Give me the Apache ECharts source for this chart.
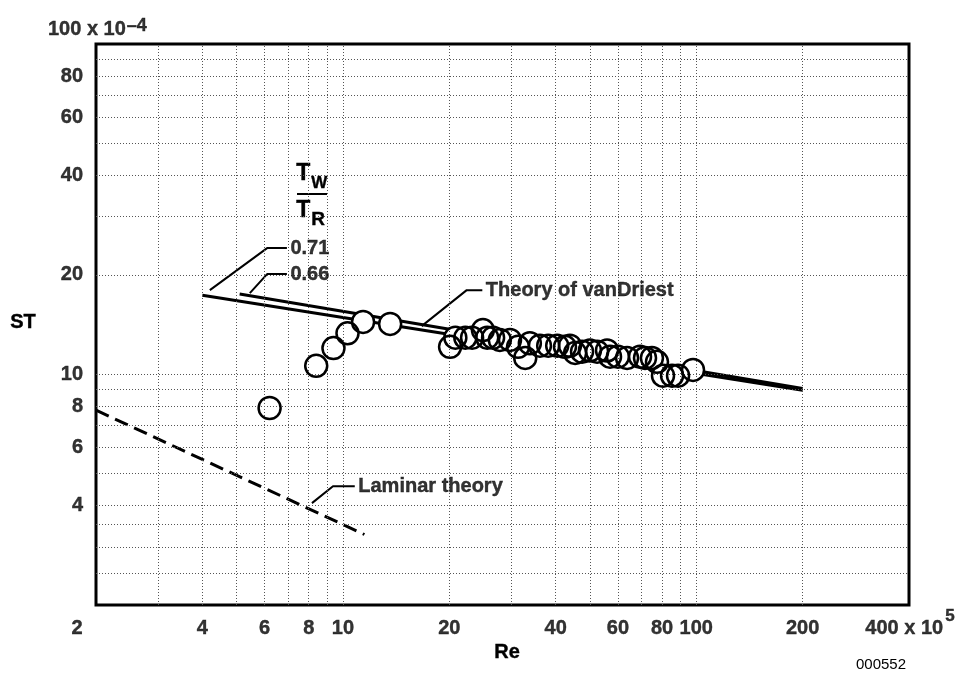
<!DOCTYPE html>
<html>
<head>
<meta charset="utf-8">
<script src="https://cdn.jsdelivr.net/npm/echarts@6/dist/echarts.min.js"></script>
<style>
html,body{margin:0;padding:0;background:#fff;}
#chart{width:963px;height:679px;}
</style>
</head>
<body>
<div id="chart"></div>
<script>
// ---- data ----
const stRe  = [6.2, 8.4, 9.4, 10.3, 11.4, 13.6, 20.1, 20.8, 22.2, 23.2, 24.9, 25.6, 26.6, 27.8, 29.7, 31.3, 32.8, 33.8, 36.1, 38.1, 40.4, 42.5, 43.9, 45.4, 47.5, 50.0, 52.4, 55.9, 57.0, 60.0, 63.7, 69.3, 71.6, 74.9, 77.4, 80.5, 85.4, 88.8, 97.9];
const stVal = [7.9, 10.6, 12.0, 13.3, 14.4, 14.2, 12.1, 12.9, 12.9, 12.9, 13.6, 12.9, 12.9, 12.7, 12.7, 12.1, 11.2, 12.4, 12.2, 12.2, 12.2, 12.1, 12.2, 11.6, 11.7, 11.8, 11.7, 11.8, 11.3, 11.3, 11.2, 11.3, 11.2, 11.2, 10.9, 9.9, 9.9, 9.9, 10.3];

const vd071Re = [4.0, 200];
const vd071St = [17.35, 8.94];
const vd066Re = [5.1, 200];
const vd066St = [17.5, 9.05];
const laminarRe = [2, 11.5];
const laminarSt = [7.78, 3.27];

// leaders (annotation connectors)
const lead071Re = [4.2, 6.1, 6.94];
const lead071St = [17.97, 24.09, 24.09];
const lead066Re = [5.45, 6.1, 6.94];
const lead066St = [17.6, 20.1, 20.1];
const leadVdRe = [16.7, 22.4, 24.8];
const leadVdSt = [13.98, 17.97, 17.97];
const leadLamRe = [8.17, 9.37, 10.8];
const leadLamSt = [4.07, 4.58, 4.58];
const annotationTexts = ['0.71', '0.66', 'Theory of vanDriest', 'Laminar theory'];

// axes
const xMin = 2, xMax = 400, yMin = 2, yMax = 100;
const xTickValues = [2, 4, 6, 8, 10, 20, 40, 60, 80, 100, 200, 400];
const xTickLabels = ['2', '4', '6', '8', '10', '20', '40', '60', '80', '100', '200', '400 x 10'];
const xUnitExp = '5';
const yTickValues = [4, 6, 8, 10, 20, 40, 60, 80, 100];
const yTickLabels = ['4', '6', '8', '10', '20', '40', '60', '80', '100 x 10'];
const yUnitExp = '\u20134';
const xGridValues = [3, 4, 5, 6, 7, 8, 9, 10, 20, 30, 40, 50, 60, 70, 80, 90, 100, 200];
const yGridValues = [2.5, 3, 3.5, 4, 5, 6, 7, 8, 9, 10, 20, 30, 40, 50, 60, 70, 80, 90];

// ---- chart ----
const FONT = '"Liberation Sans", Arial, Helvetica, sans-serif';
const chart = echarts.init(document.getElementById('chart'));
const zip = (a, b) => a.map((v, i) => [v, b[i]]);

const boldText = (size) => ({ fontFamily: FONT, fontWeight: 'bold', fontSize: size, color: '#000', textBorderColor: '#000', textBorderWidth: 0.4 });
const richSupX = {
  n: Object.assign(boldText(20), { lineHeight: 30, verticalAlign: 'bottom' }),
  sup: Object.assign(boldText(17), { verticalAlign: 'top', padding: [0, 0, 0, 2] })
};
const richSupY = {
  n: Object.assign(boldText(20), { lineHeight: 30, verticalAlign: 'bottom' }),
  sup: Object.assign(boldText(18), { verticalAlign: 'top', padding: [8, 0, 0, 1] })
};

const xTickData = xTickValues.map((v, i) => {
  const last = i === xTickValues.length - 1;
  const first = i === 0;
  return {
    value: [v, yMin],
    label: {
      show: true, position: 'inside', align: 'center', verticalAlign: 'middle', color: '#000',
      offset: last ? [1, 18] : (first ? [-19, 23] : [0, 23]),
      formatter: last ? '{n|' + xTickLabels[i] + '}{sup|' + xUnitExp + '}' : '{n|' + xTickLabels[i] + '}',
      rich: last ? richSupX : { n: boldText(20) }
    }
  };
});
const yTickData = yTickValues.map((v, i) => {
  const last = i === yTickValues.length - 1;
  return {
    value: [xMin, v],
    label: {
      show: true, position: 'inside', verticalAlign: 'middle', color: '#000',
      align: last ? 'left' : 'right',
      offset: last ? [-48, -20] : [-13, 0],
      formatter: last ? '{n|' + yTickLabels[i] + '}{sup|' + yUnitExp + '}' : '{n|' + yTickLabels[i] + '}',
      rich: last ? richSupY : { n: boldText(20) }
    }
  };
});

const leaders = [[lead071Re, lead071St], [lead066Re, lead066St], [leadVdRe, leadVdSt], [leadLamRe, leadLamSt]];
const annData = leaders.map((l, i) => ({
  value: [l[0][l[0].length - 1], l[1][l[1].length - 1]],
  label: Object.assign({
    show: true, position: 'right', distance: 3,
    formatter: annotationTexts[i]
  }, boldText(20))
}));

const gridLine = { color: '#555', width: 1, type: [1, 2] };

const series = [
  {
    type: 'line', name: 'grid', data: [], silent: true, z: 1,
    markLine: {
      silent: true, symbol: 'none', label: { show: false }, lineStyle: gridLine, animation: false,
      data: xGridValues.map(v => ({ xAxis: v })).concat(yGridValues.map(v => ({ yAxis: v })))
    }
  },
  { type: 'line', name: 'Tw/Tr 0.71', data: zip(vd071Re, vd071St), showSymbol: false, symbol: 'none', lineStyle: { color: '#000', width: 3 }, z: 3 },
  { type: 'line', name: 'Tw/Tr 0.66', data: zip(vd066Re, vd066St), showSymbol: false, symbol: 'none', lineStyle: { color: '#000', width: 3 }, z: 3 },
  { type: 'line', name: 'Laminar theory', data: zip(laminarRe, laminarSt), showSymbol: false, symbol: 'none', lineStyle: { color: '#000', width: 3, type: [14, 7] }, z: 3 }
];
leaders.forEach((l, i) => {
  series.push({ type: 'line', name: 'leader' + i, data: zip(l[0], l[1]), showSymbol: false, symbol: 'none', lineStyle: { color: '#000', width: 2 }, z: 3 });
});
// white discs underneath, then open rings on top so every outline stays visible
series.push({
  type: 'scatter', name: 'ST data fill', data: zip(stRe, stVal), symbol: 'circle', symbolSize: 21,
  itemStyle: { color: '#fff', borderWidth: 0, opacity: 1 }, silent: true, z: 4
});
series.push({
  type: 'scatter', name: 'ST data', data: zip(stRe, stVal), symbol: 'circle', symbolSize: 22,
  itemStyle: { color: 'rgba(255,255,255,0)', borderColor: '#000', borderWidth: 2.5, opacity: 1 }, z: 5
});
series.push({ type: 'scatter', name: 'annotations', data: annData, symbolSize: 1, itemStyle: { color: 'rgba(0,0,0,0)' }, clip: false, z: 6 });
series.push({ type: 'scatter', name: 'xticks', data: xTickData, symbolSize: 1, itemStyle: { color: 'rgba(0,0,0,0)' }, clip: false, z: 6 });
series.push({ type: 'scatter', name: 'yticks', data: yTickData, symbolSize: 1, itemStyle: { color: 'rgba(0,0,0,0)' }, clip: false, z: 6 });

const txt = (s, size, weight) => ({ text: s, font: (weight || 'bold') + ' ' + size + 'px ' + FONT, fill: '#000', stroke: weight === 'normal' ? null : '#000', lineWidth: weight === 'normal' ? 0 : 0.4 });

const option = {
  animation: false,
  backgroundColor: '#fff',
  grid: { left: 96, top: 44, width: 813, height: 561, show: true, borderColor: '#000', borderWidth: 3, backgroundColor: 'transparent', containLabel: false },
  xAxis: {
    type: 'log', logBase: 10, min: xMin, max: xMax,
    axisLine: { show: false }, axisTick: { show: false }, axisLabel: { show: false }, splitLine: { show: false }, minorSplitLine: { show: false }
  },
  yAxis: {
    type: 'log', logBase: 10, min: yMin, max: yMax,
    axisLine: { show: false }, axisTick: { show: false }, axisLabel: { show: false }, splitLine: { show: false }, minorSplitLine: { show: false }
  },
  series: series,
  graphic: [
    { type: 'text', left: 10, top: 312, style: txt('ST', 20) },
    { type: 'text', left: 494, top: 642, style: txt('Re', 20) },
    { type: 'text', left: 856, top: 657, style: txt('000552', 15, 'normal') },
    { type: 'text', left: 296, top: 162, style: txt('T', 23) },
    { type: 'text', left: 311, top: 175, style: txt('W', 17) },
    { type: 'rect', shape: { x: 297, y: 193, width: 30, height: 2 }, style: { fill: '#000' } },
    { type: 'text', left: 296, top: 199, style: txt('T', 23) },
    { type: 'text', left: 311, top: 210, style: txt('R', 19) }
  ]
};
chart.setOption(option);
</script>
</body>
</html>
